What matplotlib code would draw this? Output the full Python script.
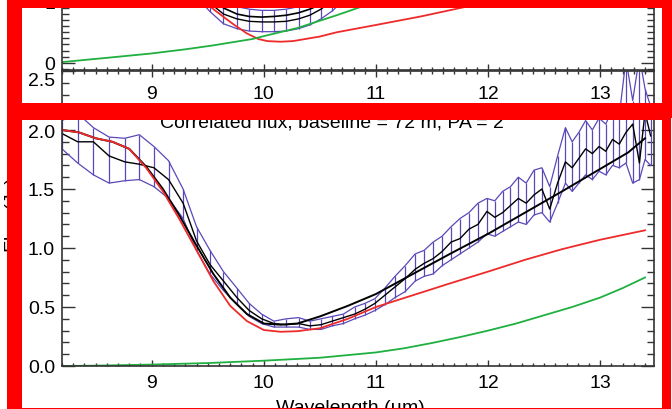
import numpy as np
import matplotlib.pyplot as plt
from matplotlib.patches import Rectangle
from matplotlib.ticker import MultipleLocator

plt.rcParams['font.family'] = ['Liberation Sans', 'DejaVu Sans']

W, H = 672, 410

# ---- correlated flux, measured (wavelength in micron, flux in Jy) ----
wave = [8.20, 8.34, 8.48, 8.62, 8.76, 8.89, 9.02, 9.15, 9.28, 9.40,
        9.52, 9.64, 9.76, 9.87, 9.98, 10.09, 10.20, 10.31, 10.41, 10.51,
        10.61, 10.71, 10.81, 10.90, 10.99, 11.08, 11.17, 11.26, 11.35, 11.43,
        11.51, 11.59, 11.67, 11.75, 11.83, 11.91, 11.99, 12.06, 12.13, 12.20,
        12.27, 12.34, 12.41, 12.48, 12.55, 12.62, 12.69, 12.75, 12.81, 12.87,
        12.93, 12.99, 13.05, 13.11, 13.17, 13.23, 13.29, 13.35, 13.40, 13.45]
corr_mean = [1.97, 1.90, 1.90, 1.78, 1.73, 1.71, 1.68, 1.58, 1.38, 1.06,
             0.86, 0.72, 0.58, 0.47, 0.40, 0.36, 0.35, 0.36, 0.34, 0.35,
             0.38, 0.41, 0.44, 0.48, 0.53, 0.60, 0.67, 0.74, 0.82, 0.87,
             0.91, 0.97, 1.05, 1.08, 1.16, 1.20, 1.31, 1.26, 1.30, 1.36,
             1.42, 1.38, 1.45, 1.50, 1.33, 1.55, 1.73, 1.68, 1.76, 1.84,
             1.80, 1.86, 1.82, 1.92, 1.88, 1.98, 2.05, 1.72, 2.15, 1.95]
corr_hi = [2.08, 2.14, 2.02, 1.94, 1.93, 1.96, 1.86, 1.74, 1.50, 1.18,
           0.98, 0.80, 0.66, 0.53, 0.44, 0.38, 0.40, 0.41, 0.38, 0.40,
           0.42, 0.44, 0.50, 0.53, 0.57, 0.66, 0.76, 0.85, 0.95, 0.98,
           1.05, 1.10, 1.18, 1.25, 1.30, 1.38, 1.42, 1.40, 1.48, 1.52,
           1.60, 1.55, 1.66, 1.68, 1.52, 1.78, 2.02, 1.90, 1.98, 2.08,
           2.00, 2.10, 2.05, 2.18, 2.12, 2.60, 2.25, 2.62, 2.35, 2.20]
corr_lo = [1.84, 1.72, 1.62, 1.55, 1.57, 1.58, 1.52, 1.42, 1.25, 0.98,
           0.78, 0.64, 0.52, 0.42, 0.36, 0.33, 0.33, 0.33, 0.31, 0.31,
           0.34, 0.36, 0.40, 0.43, 0.47, 0.52, 0.58, 0.63, 0.72, 0.76,
           0.78, 0.85, 0.90, 0.95, 1.00, 1.05, 1.12, 1.10, 1.14, 1.18,
           1.22, 1.20, 1.28, 1.30, 1.22, 1.38, 1.55, 1.48, 1.55, 1.62,
           1.58, 1.65, 1.62, 1.70, 1.68, 1.72, 1.55, 1.58, 1.75, 1.70]

# ---- model curves ----
mod_wave = [8.2, 8.35, 8.5, 8.65, 8.8, 8.95, 9.1, 9.25, 9.4, 9.55,
            9.7, 9.85, 10.0, 10.15, 10.3, 10.5, 10.75, 11.0, 11.33, 11.66,
            12.0, 12.33, 12.66, 13.0, 13.25, 13.4]
red_corr = [2.00, 1.98, 1.93, 1.90, 1.84, 1.68, 1.48, 1.24, 0.98, 0.72,
            0.51, 0.38, 0.305, 0.29, 0.295, 0.32, 0.40, 0.50, 0.60, 0.70,
            0.80, 0.90, 0.99, 1.07, 1.12, 1.15]
black_corr = [2.00, 1.98, 1.93, 1.90, 1.84, 1.69, 1.50, 1.27, 1.02, 0.78,
              0.58, 0.44, 0.36, 0.35, 0.36, 0.42, 0.51, 0.61, 0.78, 0.95,
              1.12, 1.30, 1.48, 1.67, 1.81, 1.93]
green_wave = [8.2, 8.5, 9.0, 9.5, 10.0, 10.5, 11.0, 11.25, 11.5, 11.75,
              12.0, 12.25, 12.5, 12.75, 13.0, 13.2, 13.4]
green_corr = [0.0, 0.003, 0.012, 0.025, 0.045, 0.07, 0.115, 0.15, 0.195, 0.245,
              0.30, 0.36, 0.43, 0.50, 0.58, 0.66, 0.75]

# ---- top panel (total flux), only its lower edge is in view ----
top_wave = [9.28, 9.40, 9.52, 9.64, 9.76, 9.87, 9.98, 10.09, 10.20, 10.31,
            10.41, 10.51, 10.61, 10.71, 10.81]
top_mean = [1.60, 1.25, 0.98, 0.80, 0.72, 0.68, 0.67, 0.67, 0.68, 0.72,
            0.78, 0.88, 1.02, 1.20, 1.45]
top_hi = [1.80, 1.45, 1.18, 1.00, 0.92, 0.88, 0.86, 0.86, 0.88, 0.92,
          0.98, 1.08, 1.22, 1.40, 1.65]
top_lo = [1.40, 1.08, 0.84, 0.64, 0.56, 0.52, 0.51, 0.51, 0.52, 0.56,
          0.62, 0.72, 0.85, 1.02, 1.25]
top_model = [1.70, 1.35, 1.08, 0.90, 0.80, 0.76, 0.75, 0.76, 0.78, 0.82,
             0.88, 0.96, 1.06, 1.20, 1.38]
top_red_wave = [9.3, 9.45, 9.55, 9.65, 9.73, 9.85, 9.95, 10.03, 10.15, 10.26,
                10.5, 10.65, 11.0, 11.4, 11.78, 12.2, 12.8, 13.4]
top_red = [1.40, 1.05, 0.88, 0.74, 0.63, 0.48, 0.39, 0.355, 0.345, 0.355,
           0.43, 0.50, 0.62, 0.76, 0.91, 1.05, 1.25, 1.45]
top_green_wave = [8.2, 8.6, 8.99, 9.3, 9.55, 9.9, 10.03, 10.3, 10.5, 10.65, 10.87, 11.1, 11.5]
top_green = [0.01, 0.08, 0.15, 0.22, 0.285, 0.39, 0.45, 0.57, 0.69, 0.78, 0.92, 1.08, 1.35]

RED = '#ee2a2a'
GREEN = '#1fb040'
PURPLE = '#5b48b8'
AXC = '#333333'
FS = 14


def px_axes(fig, x0, y0, x1, y1):
    # pixel box (top-left origin) -> axes
    return fig.add_axes([x0 / W, 1 - y1 / H, (x1 - x0) / W, (y1 - y0) / H])


def style(ax, xpad):
    for s in ax.spines.values():
        s.set_color(AXC)
        s.set_linewidth(1.2)
    ax.xaxis.set_major_locator(MultipleLocator(1))
    ax.xaxis.set_minor_locator(MultipleLocator(0.1))
    ax.tick_params(axis='both', which='both', direction='in', colors=AXC,
                   labelcolor='black', labelsize=FS, width=1.0)
    ax.tick_params(axis='x', which='major', length=4.5, pad=xpad, top=True)
    ax.tick_params(axis='x', which='minor', length=2.2, top=True)
    ax.tick_params(axis='y', which='major', length=9.5, pad=5, right=True)
    ax.tick_params(axis='y', which='minor', length=5, right=True)


def ladder(ax, x, mean, lo, hi):
    ax.vlines(x, lo, hi, color=PURPLE, lw=0.9)
    ax.plot(x, hi, color=PURPLE, lw=0.9)
    ax.plot(x, lo, color=PURPLE, lw=0.9)
    ax.plot(x, mean, color='black', lw=1.0)


fig = plt.figure(figsize=(W / 100, H / 100), dpi=100)

# lower panel: correlated flux
ax = px_axes(fig, 62, 72, 654, 367)
ladder(ax, wave, corr_mean, corr_lo, corr_hi)
ax.plot(mod_wave, black_corr, color='black', lw=1.4)
ax.plot(mod_wave, red_corr, color=RED, lw=1.3)
ax.plot(green_wave, green_corr, color=GREEN, lw=1.3)
ax.set_xlim(8.2, 13.48)
ax.set_ylim(0, 2.5)
ax.yaxis.set_major_locator(MultipleLocator(0.5))
ax.yaxis.set_minor_locator(MultipleLocator(0.1))
# the top label sits a little lower, just under the upper panel's "0"
ax.yaxis.set_major_formatter(lambda v, p: '' if v > 2.45 else '%.1f' % v)
ax.annotate('2.5', xy=(0, 2.5), xycoords=('axes fraction', 'data'),
            xytext=(-7, -1), textcoords='offset pixels',
            ha='right', va='top', fontsize=FS)
style(ax, 6)

# upper panel: total flux (runs off the top of the picture)
ax2 = px_axes(fig, 62, -58, 654, 71)
ladder(ax2, top_wave, top_mean, top_lo, top_hi)
ax2.plot(top_wave, top_model, color='black', lw=1.2)
ax2.plot(top_red_wave, top_red, color=RED, lw=1.3)
ax2.plot(top_green_wave, top_green, color=GREEN, lw=1.3)
ax2.set_xlim(8.2, 13.48)
ax2.set_ylim(-0.12, 2.0)
ax2.yaxis.set_major_locator(MultipleLocator(1))
ax2.yaxis.set_minor_locator(MultipleLocator(0.1))
ax2.yaxis.set_major_formatter(lambda v, p: '%d' % round(v))
style(ax2, 11)

fig.text(160 / W, 1 - 128 / H, 'Correlated flux, baseline = 72 m, PA = 2',
         fontsize=FS, ha='left', va='baseline')
fig.text(350 / W, 1 - 413 / H, 'Wavelength (\u00b5m)', fontsize=FS,
         ha='center', va='baseline')
fig.text(13 / W, 1 - 215 / H, 'Flux (Jy)', fontsize=FS, rotation=90,
         ha='center', va='center')

# red highlight boxes on top of the figure
bands = [
    (7, -10, 22, 119), (7, -10, 672, 9), (7, 104, 672, 119), (662, -10, 672, 119),
    (7, 105, 22, 420), (7, 105, 671, 121), (662, 105, 671, 420), (7, 409, 671, 420),
]
for x0, y0, x1, y1 in bands:
    fig.add_artist(Rectangle((x0 / W, 1 - y1 / H), (x1 - x0) / W, (y1 - y0) / H,
                             transform=fig.transFigure, color='red', lw=0, zorder=20))

fig.savefig('out.png', dpi=100)
